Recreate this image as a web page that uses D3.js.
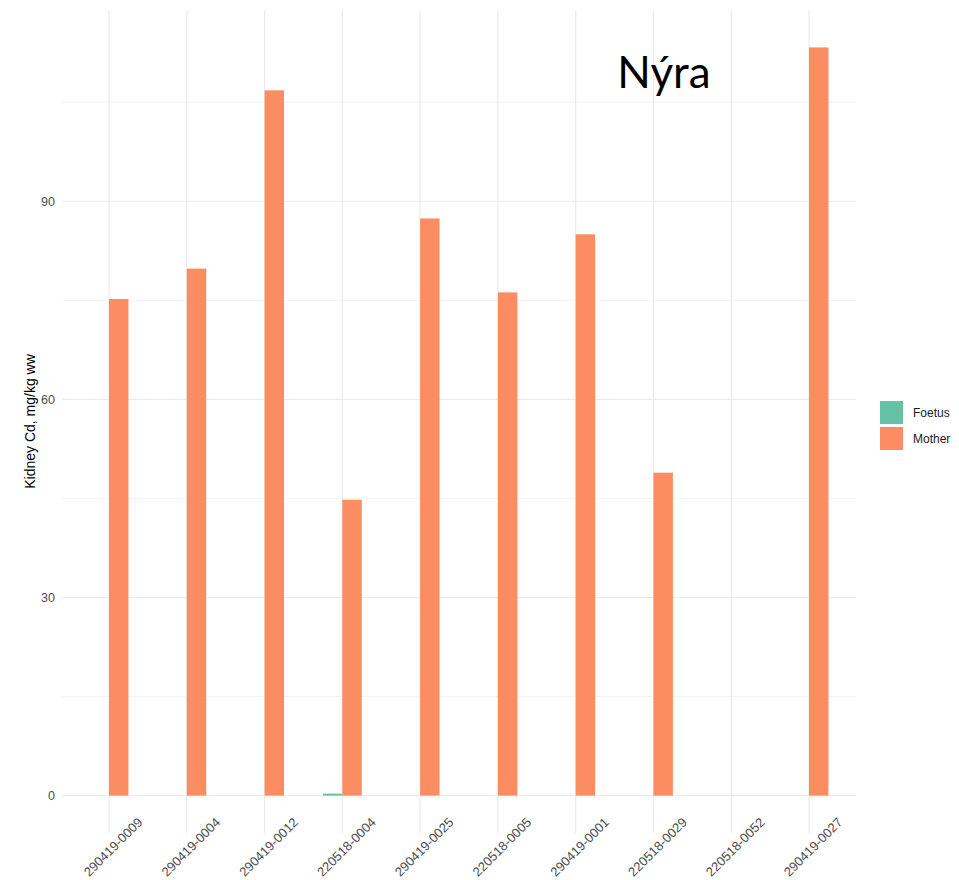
<!DOCTYPE html>
<html>
<head>
<meta charset="utf-8">
<script src="https://cdn.jsdelivr.net/npm/d3@7"></script>
<style>
  body { margin: 0; background: #fff; }
  svg { display: block; }
</style>
</head>
<body>
<svg id="chart" width="959" height="880"></svg>
<script>
const categories = ["290419-0009","290419-0004","290419-0012","220518-0004","290419-0025","220518-0005","290419-0001","220518-0029","220518-0052","290419-0027"];
const seriesNames = ["Foetus","Mother"];
const foetusValues = [0, 0, 0, 0.3, 0, 0, 0, 0, 0, 0];
const motherValues = [75.2, 79.8, 106.8, 44.8, 87.4, 76.2, 85.0, 48.9, null, 113.3];
const yTicks = [0, 30, 60, 90];
const yMinorTicks = [15, 45, 75, 105];
const colors = ["#66C2A5", "#FC8D62"];
const titleText = "Nýra";
const yTitle = "Kidney Cd, mg/kg ww";

const svg = d3.select("#chart");
const panel = {left: 62, right: 856, top: 10, bottom: 833};

const x = d3.scalePoint().domain(categories).range([109, 809]);
const step = x.step();
const yMax = d3.max(motherValues.concat(foetusValues).filter(v => v != null));
const pad = yMax * 0.05;
const y = d3.scaleLinear().domain([-pad, yMax + pad]).range([panel.bottom, panel.top]);

// grid
const g = svg.append("g");
g.selectAll(".minor").data(yMinorTicks).enter().append("line")
  .attr("x1", panel.left).attr("x2", panel.right)
  .attr("y1", d => y(d)).attr("y2", d => y(d))
  .attr("stroke", "#EBEBEB").attr("stroke-width", 0.6);
g.selectAll(".major").data(yTicks).enter().append("line")
  .attr("x1", panel.left).attr("x2", panel.right)
  .attr("y1", d => y(d)).attr("y2", d => y(d))
  .attr("stroke", "#EBEBEB").attr("stroke-width", 1.2);
g.selectAll(".vmajor").data(categories).enter().append("line")
  .attr("x1", d => x(d)).attr("x2", d => x(d))
  .attr("y1", panel.top).attr("y2", panel.bottom)
  .attr("stroke", "#EBEBEB").attr("stroke-width", 1.2);

// bars
const barW = step * 0.25;
const seriesData = [foetusValues, motherValues];
seriesData.forEach((vals, si) => {
  svg.append("g").selectAll("rect")
    .data(categories.map((c, i) => ({c, v: vals[i]})).filter(d => d.v != null))
    .enter().append("rect")
    .attr("x", d => x(d.c) + (si === 0 ? -barW : 0))
    .attr("width", barW)
    .attr("y", d => Math.min(y(d.v), y(0)))
    .attr("height", d => Math.max(Math.abs(y(0) - y(d.v)), 0))
    .attr("fill", colors[si]);
});

// y axis labels
svg.append("g").selectAll("text").data(yTicks).enter().append("text")
  .attr("x", 55).attr("y", d => y(d)).attr("dy", "0.35em")
  .attr("text-anchor", "end")
  .attr("font-family", "Liberation Sans, Arial, sans-serif")
  .attr("font-size", 12.5).attr("fill", "#4D4D4D")
  .text(d => d);

// x axis labels
svg.append("g").selectAll("text").data(categories).enter().append("text")
  .attr("transform", d => `translate(${x(d) + 4},847) rotate(-45)`)
  .attr("text-anchor", "middle").attr("dy", "0.35em")
  .attr("font-family", "Liberation Sans, Arial, sans-serif")
  .attr("font-size", 13).attr("fill", "#4D4D4D")
  .text(d => d);

// y title
svg.append("text")
  .attr("transform", `translate(30,${(panel.top + panel.bottom) / 2}) rotate(-90)`)
  .attr("text-anchor", "middle").attr("dy", "0.35em")
  .attr("font-family", "Liberation Sans, Arial, sans-serif")
  .attr("font-size", 14).attr("fill", "#000")
  .text(yTitle);

// legend
const lg = svg.append("g").attr("transform", "translate(880,401)");
seriesNames.forEach((n, i) => {
  lg.append("rect").attr("x", 0).attr("y", i * 26).attr("width", 23).attr("height", 23)
    .attr("fill", colors[i]);
  lg.append("text").attr("x", 33).attr("y", i * 26 + 12).attr("dy", "0.35em")
    .attr("font-family", "Liberation Sans, Arial, sans-serif")
    .attr("font-size", 12).attr("fill", "#1A1A1A")
    .text(n);
});

// title
svg.append("text")
  .attr("x", 664).attr("y", 88)
  .attr("text-anchor", "middle")
  .attr("font-family", "Lato, 'Open Sans', sans-serif")
  .attr("font-size", 44).attr("fill", "#000")
  .text(titleText);
</script>
</body>
</html>
